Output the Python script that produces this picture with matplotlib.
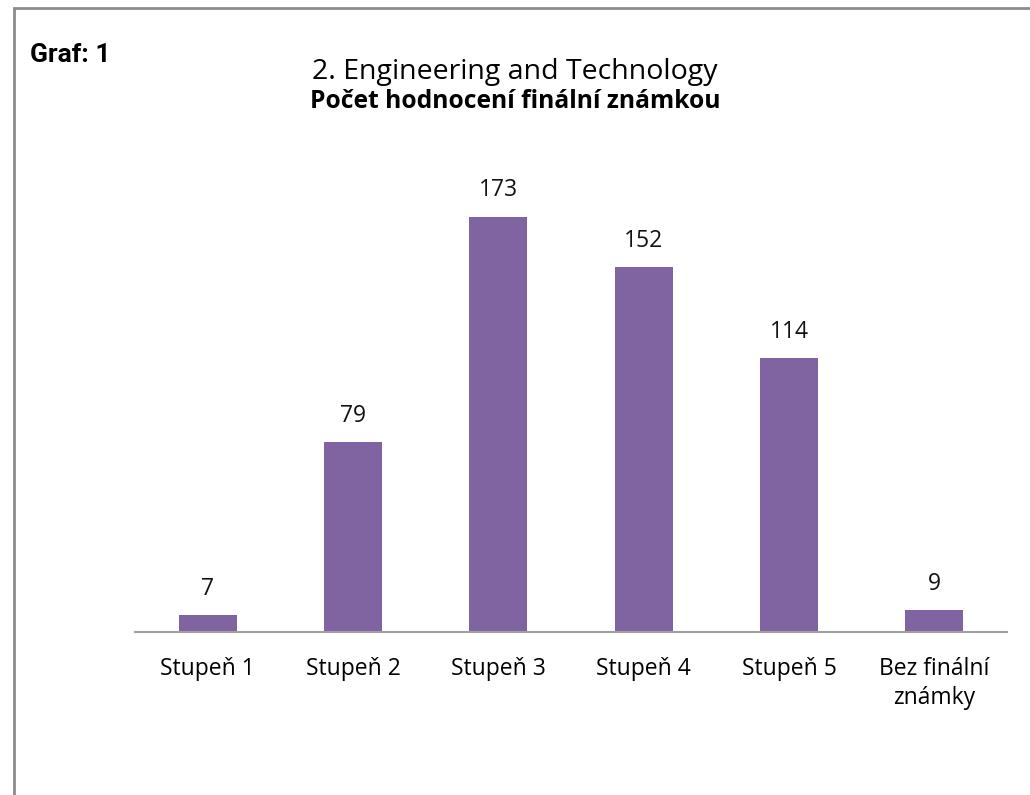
import matplotlib.pyplot as plt
from matplotlib.patches import Rectangle

categories = ["Stupeň 1", "Stupeň 2", "Stupeň 3", "Stupeň 4", "Stupeň 5", "Bez finální\nznámky"]
counts = [7, 79, 173, 152, 114, 9]

plt.rcParams['font.family'] = ['Open Sans', 'DejaVu Sans']

fig = plt.figure(figsize=(10.3, 7.95), dpi=100)

# outer frame (runs off the right and bottom edge)
fig.patches.append(Rectangle((14 / 1030, -0.05), 1.2, (795 - 8) / 795 + 0.05,
                             transform=fig.transFigure, fill=False,
                             edgecolor="#8c8c8c", linewidth=2))

ax = fig.add_axes([135 / 1030, 163 / 795, 872 / 1030, 480 / 795])
x = range(len(categories))
bars = ax.bar(x, counts, width=0.4, color="#8064A2")

for xi, v in zip(x, counts):
    ax.annotate(str(v), (xi, v), xytext=(0, 19), textcoords="offset points",
                ha="center", va="center", fontsize=16.5, color="#111111")

ax.set_xlim(-0.5, len(categories) - 0.5)
ax.set_ylim(0, 200)
ax.set_xticks(list(x))
ax.set_xticklabels(categories, fontsize=16.5, linespacing=1.3, va="top")
ax.tick_params(axis="x", length=0, pad=18)
ax.set_yticks([])
for s in ["top", "right", "left"]:
    ax.spines[s].set_visible(False)
ax.spines["bottom"].set_color("#a0a0a0")
ax.spines["bottom"].set_linewidth(1.5)

fig.text(30 / 1030, 1 - 55 / 795, "Graf: 1", fontsize=19, fontweight="bold",
         family=["Roboto", "DejaVu Sans"], va="center", ha="left")
fig.text(515 / 1030, 1 - 72 / 795, "2. Engineering and Technology", fontsize=20.5,
         ha="center", va="center")
fig.text(515 / 1030, 1 - 101 / 795, "Počet hodnocení finální známkou", fontsize=17.7,
         fontweight="bold", ha="center", va="center")

fig.savefig("out.png", dpi=100)
